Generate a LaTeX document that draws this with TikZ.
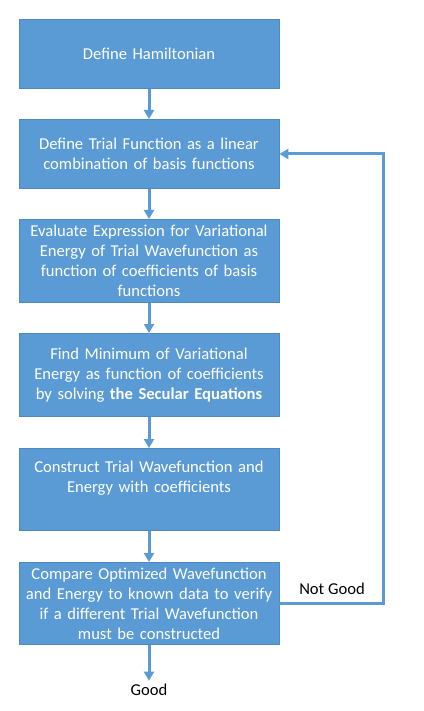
\documentclass[tikz,border=0pt]{standalone}
\usepackage{fontspec}
\setmainfont{Carlito}
\usetikzlibrary{arrows.meta}
\definecolor{boxblue}{HTML}{5B9BD5}
\definecolor{boxedge}{HTML}{4F89BE}
\begin{document}
\begin{tikzpicture}[x=1pt,y=-1pt,
  stepbox/.style={draw=boxedge,line width=0.8pt,fill=boxblue,text=white,minimum width=260pt,inner sep=0pt,align=center,font=\fontsize{16.6}{20}\selectfont,anchor=north,text width=256pt},
  conn/.style={draw=boxblue,line width=3pt,-{Triangle[length=9pt,width=10pt]}},
  lbl/.style={font=\fontsize{16.6}{20}\selectfont,text=black}]
\useasboundingbox (0,0) rectangle (423,711);
\fill[white] (0,0) rectangle (423,711);
\node[stepbox,minimum height=69pt] (b1) at (149,19) {Define Hamiltonian};
\node[stepbox,minimum height=69pt] (b2) at (149,119) {Define Trial Function as a linear\\combination of basis functions};
\node[stepbox,minimum height=83pt] (b3) at (149,219) {Evaluate Expression for Variational\\Energy of Trial Wavefunction as\\function of coefficients of basis\\functions};
\node[stepbox,minimum height=83pt] (b4) at (149,333) {Find Minimum of Variational\\Energy as function of coefficients\\by solving \textbf{the Secular Equations}};
\node[stepbox,minimum height=82pt] (b5) at (149,448) {Construct Trial Wavefunction and\\Energy with coefficients\\\strut};
\node[stepbox,minimum height=82pt] (b6) at (149,562) {Compare Optimized Wavefunction\\and Energy to known data to verify\\if a different Trial Wavefunction\\must be constructed};
\node[lbl] (good) at (149,690) {Good};
\node[lbl] (ng) at (332,589) {Not Good};
\coordinate (c1) at (383,603);
\coordinate (c2) at (383,154);
\draw[conn] (b1) -- (b2);
\draw[conn] (b2) -- (b3);
\draw[conn] (b3) -- (b4);
\draw[conn] (b4) -- (b5);
\draw[conn] (b5) -- (b6);
\draw[conn,shorten >=0pt] (b6.south) -- (good.north);
\draw[conn] (b6.east |- c1) -- (c1) -- (c2) -- (b2.east |- c2);
\end{tikzpicture}
\end{document}
